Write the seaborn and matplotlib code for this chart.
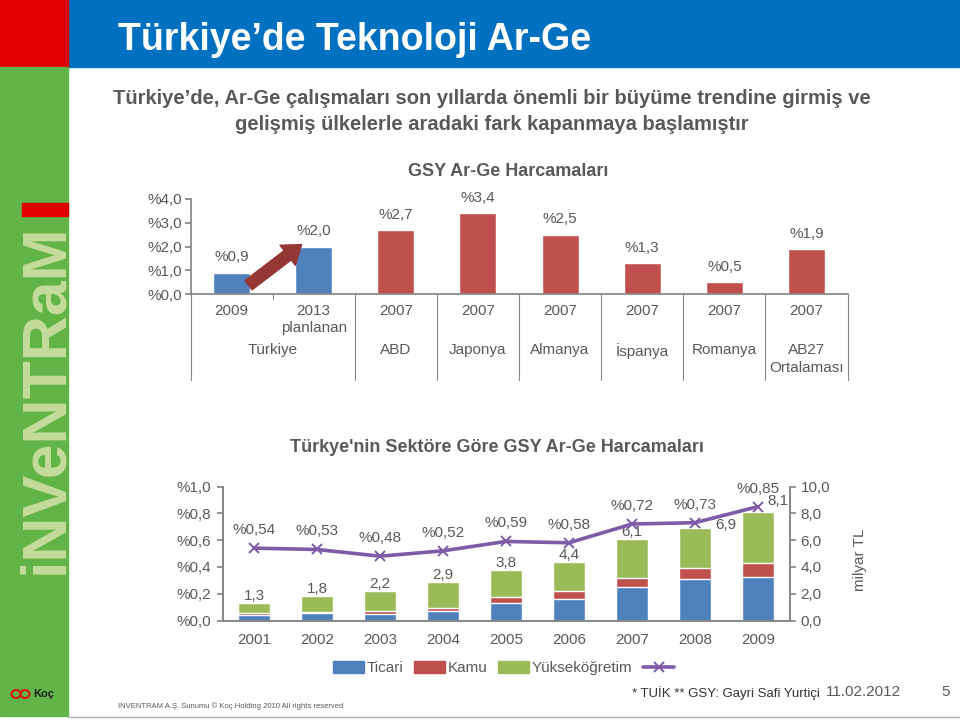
import numpy as np
import pandas as pd
import seaborn as sns
import matplotlib
matplotlib.use("Agg")
import matplotlib.pyplot as plt
from matplotlib.patches import Rectangle, Patch, Ellipse
from matplotlib.lines import Line2D
import matplotlib.transforms as mtransforms

# ---------------------------------------------------------------- data
top_cats = ["Türkiye 2009", "Türkiye 2013", "ABD", "Japonya", "Almanya", "İspanya", "Romanya", "AB27"]
top_years = ["2009", "2013\nplanlanan", "2007", "2007", "2007", "2007", "2007", "2007"]
top_values = [0.9, 2.0, 2.7, 3.4, 2.5, 1.3, 0.5, 1.9]
top_kind = ["tr", "tr", "dunya", "dunya", "dunya", "dunya", "dunya", "dunya"]
top_groups = ["Türkiye", "ABD", "Japonya", "Almanya", "İspanya", "Romanya", "AB27\nOrtalaması"]
top_group_size = [2, 1, 1, 1, 1, 1, 1]

years = ["2001", "2002", "2003", "2004", "2005", "2006", "2007", "2008", "2009"]
ticari = [0.44, 0.57, 0.52, 0.74, 1.31, 1.63, 2.52, 3.06, 3.26]
kamu = [0.13, 0.10, 0.20, 0.20, 0.44, 0.54, 0.64, 0.84, 1.01]
yuksek = [0.73, 1.13, 1.48, 1.96, 2.05, 2.23, 2.94, 3.00, 3.83]
toplam = [1.3, 1.8, 2.2, 2.9, 3.8, 4.4, 6.1, 6.9, 8.1]
gsy_orani = [0.54, 0.53, 0.48, 0.52, 0.59, 0.58, 0.72, 0.73, 0.85]

# ---------------------------------------------------------------- style
sns.set_theme(style="white")
plt.rcParams["font.family"] = ["Liberation Sans", "DejaVu Sans"]

BLUE = "#4F81BD"
RED = "#C0504D"
GREEN = "#9BBB59"
PURPLE = "#7D5BA6"
GRAY = "#595959"
AXIS = "#868686"


def fx(px):
    return px / 960


def fy(py):
    return 1 - py / 720


def tr_num(v, nd=1, pct=False):
    s = f"{v:.{nd}f}".replace(".", ",")
    return "%" + s if pct else s


fig = plt.figure(figsize=(9.6, 7.2), dpi=100)

# ---------------------------------------------------------------- slide frame
fig.add_artist(Rectangle((fx(68), fy(67)), fx(892), 67 / 720, transform=fig.transFigure,
                         color="#0070C0", zorder=0))
fig.add_artist(Rectangle((0, fy(67)), fx(68), 67 / 720, transform=fig.transFigure,
                         color="#E00000", zorder=0))
fig.add_artist(Rectangle((0, fy(716)), fx(68), (716 - 67) / 720, transform=fig.transFigure,
                         color="#62B446", zorder=0))
fig.add_artist(Line2D([fx(68), 1], [fy(717), fy(717)], transform=fig.transFigure,
                      color="#B0B0B0", lw=1))
fig.add_artist(Rectangle((fx(22), fy(216)), fx(46), 13 / 720, transform=fig.transFigure,
                         color="#E00000", zorder=1))
fig.text(fx(46), fy(574), "iNVeNTRaM", rotation=90, color="#C4DB9C", fontsize=45,
         fontweight="bold", ha="left", va="center", rotation_mode="anchor")
fig.add_artist(Ellipse((fx(16), fy(694)), fx(9), 8 / 720, transform=fig.transFigure,
                       fill=False, ec="#D02010", lw=1.6))
fig.add_artist(Ellipse((fx(25), fy(694)), fx(9), 8 / 720, transform=fig.transFigure,
                       fill=False, ec="#D02010", lw=1.6))
fig.text(fx(33), fy(694), "Koç", color="#202020", fontsize=8, fontweight="bold", va="center")

fig.text(fx(118), fy(40), "Türkiye’de Teknoloji Ar-Ge", color="white", fontsize=27,
         fontweight="bold", va="center")
fig.text(fx(492), fy(98), "Türkiye’de, Ar-Ge çalışmaları son yıllarda önemli bir büyüme trendine girmiş ve",
         color=GRAY, fontsize=14.5, fontweight="bold", ha="center", va="center")
fig.text(fx(492), fy(125), "gelişmiş ülkelerle aradaki fark kapanmaya başlamıştır",
         color=GRAY, fontsize=14.5, fontweight="bold", ha="center", va="center")

# ---------------------------------------------------------------- top chart
ax1 = fig.add_axes([fx(190.5), fy(294), 657 / 960, 95 / 720])
df_top = pd.DataFrame({"kat": top_cats, "deger": top_values, "tur": top_kind})
sns.barplot(data=df_top, x="kat", y="deger", hue="tur", palette={"tr": BLUE, "dunya": RED},
            width=0.45, dodge=False, saturation=1, legend=False, ax=ax1)
ax1.set_xlim(-0.5, len(top_cats) - 0.5)
ax1.set_ylim(0, 4)
ax1.set_yticks([0, 1, 2, 3, 4])
ax1.set_yticklabels([tr_num(v, 1, True) for v in [0, 1, 2, 3, 4]])
ax1.set_xticks(range(len(top_cats)))
ax1.set_xticklabels(top_years, linespacing=1.3)
ax1.tick_params(axis="x", length=0, pad=7, labelsize=11, labelcolor=GRAY)
ax1.tick_params(axis="y", left=True, length=4, color=AXIS, labelsize=11, labelcolor=GRAY, pad=2)
ax1.set_xlabel("")
ax1.set_ylabel("")
for s in ["top", "right"]:
    ax1.spines[s].set_visible(False)
for s in ["left", "bottom"]:
    ax1.spines[s].set_color(AXIS)
for i, v in enumerate(top_values):
    ax1.annotate(tr_num(v, 1, True), (i, v), xytext=(0, 11), textcoords="offset points",
                 ha="center", va="center", color=GRAY, fontsize=11)

# group separators and labels below the axis
trans = mtransforms.blended_transform_factory(ax1.transData, ax1.transAxes)
edges = np.concatenate([[0], np.cumsum(top_group_size)]) - 0.5
for e in edges:
    ax1.plot([e, e], [0, -0.9], transform=trans, color=AXIS, lw=0.8, clip_on=False)
ax1.plot([0.5, 0.5], [0, -0.05], transform=trans, color=AXIS, lw=0.8, clip_on=False)
for g, a, b in zip(top_groups, edges[:-1], edges[1:]):
    ax1.text((a + b) / 2, -0.52, g, transform=trans, ha="center", va="top", color=GRAY,
             fontsize=11, linespacing=1.3)

ax1.annotate("", xy=(0.88, 2.15), xytext=(0.18, 0.3),
             arrowprops=dict(arrowstyle="simple,head_width=1.3,head_length=0.9,tail_width=0.6",
                             color="#953735", mutation_scale=14))
fig.text(fx(508), fy(172), "GSY Ar-Ge Harcamaları", color=GRAY, fontsize=13, fontweight="bold",
         ha="center", va="center")

# ---------------------------------------------------------------- bottom chart
ax2 = fig.add_axes([fx(222.5), fy(620.5), 567 / 960, 134 / 720])
df_bot = pd.DataFrame({"yil": years, "ticari": ticari, "kamu": kamu, "yuksek": yuksek})
df_bot["ust"] = df_bot["ticari"] + df_bot["kamu"] + df_bot["yuksek"]
df_bot["orta"] = df_bot["ticari"] + df_bot["kamu"]
sns.barplot(data=df_bot, x="yil", y="ust", color=GREEN, saturation=1, width=0.5, ax=ax2)
sns.barplot(data=df_bot, x="yil", y="orta", color=RED, saturation=1, width=0.5, ax=ax2)
sns.barplot(data=df_bot, x="yil", y="ticari", color=BLUE, saturation=1, width=0.5, ax=ax2)
ax2.set_ylim(0, 10)
ax2.set_yticks([0, 2, 4, 6, 8, 10])
ax2.set_yticklabels([tr_num(v) for v in [0, 2, 4, 6, 8, 10]])
ax2.set_xlabel("")
ax2.set_ylabel("")
ax2.spines["top"].set_visible(False)
for s in ["left", "bottom", "right"]:
    ax2.spines[s].set_color(AXIS)

label_off = {7: (22, 2), 8: (14, 8)}
for i, v in enumerate(toplam):
    ax2.annotate(tr_num(v), (i, v), xytext=label_off.get(i, (0, 5)), textcoords="offset points",
                 ha="center", va="center", color=GRAY, fontsize=11)

ax3 = ax2.twinx()
sns.pointplot(x=years, y=gsy_orani, color=PURPLE, errorbar=None, marker="x", markersize=7,
              markeredgewidth=1.4, linewidth=2.6, ax=ax3)
ax3.set_ylim(0, 1)
ax3.set_yticks([0, 0.2, 0.4, 0.6, 0.8, 1.0])
ax3.set_yticklabels([tr_num(v, 1, True) for v in [0, 0.2, 0.4, 0.6, 0.8, 1.0]])
ax3.yaxis.tick_left()
ax3.tick_params(axis="y", left=True, right=False, length=4, color=AXIS, labelsize=11,
                labelcolor=GRAY, pad=4)
ax3.spines["top"].set_visible(False)
for s in ["left", "bottom", "right"]:
    ax3.spines[s].set_color(AXIS)
for i, v in enumerate(gsy_orani):
    ax3.annotate(tr_num(v, 2, True), (i, v), xytext=(0, 13), textcoords="offset points",
                 ha="center", va="center", color=GRAY, fontsize=11)

# twinx moves the bar axis ticks to the left, put them back on the right
ax2.yaxis.tick_right()
ax2.tick_params(axis="x", length=0, pad=9, labelsize=11, labelcolor=GRAY)
ax2.tick_params(axis="y", right=True, left=False, length=4, color=AXIS, labelsize=11,
                labelcolor=GRAY, pad=4)

fig.text(fx(860), fy(560), "milyar TL", rotation=90, color=GRAY, fontsize=11, ha="center", va="center")
fig.text(fx(497), fy(447), "Türkye'nin Sektöre Göre GSY Ar-Ge Harcamaları", color=GRAY, fontsize=13,
         fontweight="bold", ha="center", va="center")

handles = [Patch(color=BLUE), Patch(color=RED), Patch(color=GREEN),
           Line2D([], [], color=PURPLE, lw=2.6, marker="x", markersize=7, markeredgewidth=1.4)]
fig.legend(handles, ["Ticari", "Kamu", "Yükseköğretim", ""], loc="center",
           bbox_to_anchor=(fx(505), fy(668)), ncol=4, frameon=False, fontsize=11,
           handlelength=2.0, handleheight=0.8, handletextpad=0.2, columnspacing=0.7,
           labelcolor=GRAY)

# ---------------------------------------------------------------- footer
fig.text(fx(118), fy(706), "INVENTRAM A.Ş. Sunumu © Koç Holding 2010 All rights reserved",
         color=GRAY, fontsize=5.5, va="center")
fig.text(fx(820), fy(693), "* TUİK ** GSY: Gayri Safi Yurtiçi", color="#333333", fontsize=9.5,
         ha="right", va="center")
fig.text(fx(826), fy(692), "11.02.2012", color=GRAY, fontsize=11, va="center")
fig.text(fx(946), fy(692), "5", color=GRAY, fontsize=11, ha="center", va="center")

fig.savefig("out.png", dpi=100)
